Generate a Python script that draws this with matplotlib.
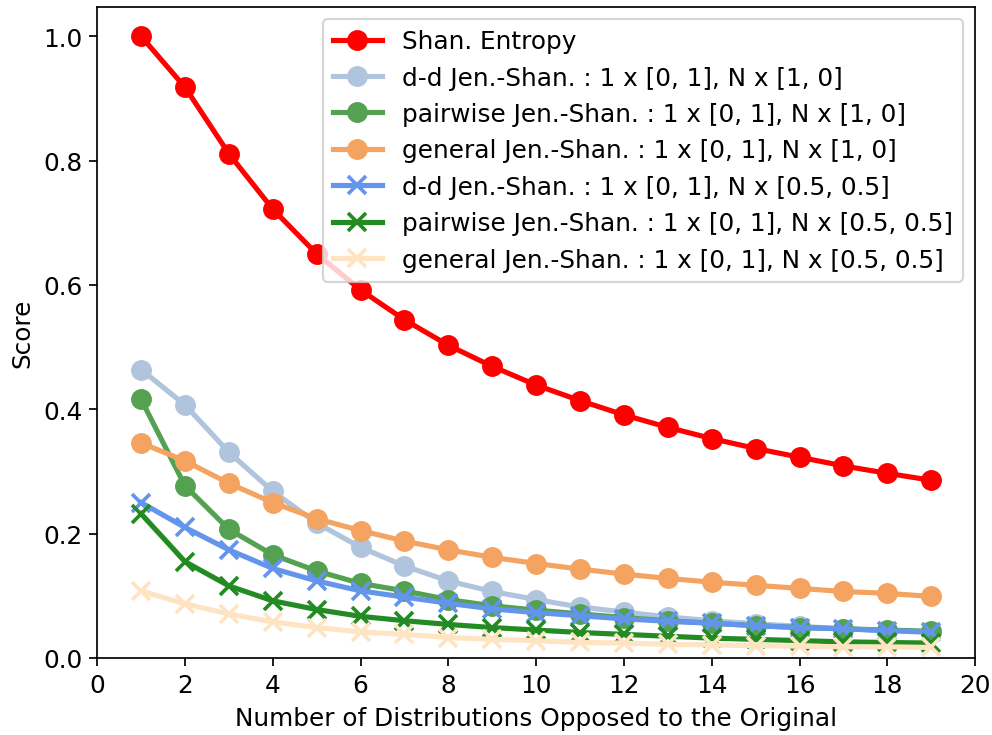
import matplotlib
matplotlib.use("Agg")
import matplotlib.pyplot as plt

n_opposed = list(range(1, 20))

shan_entropy = [1.000, 0.918, 0.811, 0.722, 0.650, 0.592, 0.544, 0.503, 0.469, 0.439,
                0.414, 0.391, 0.371, 0.353, 0.337, 0.323, 0.309, 0.297, 0.286]
dd_js_10 = [0.464, 0.407, 0.331, 0.268, 0.217, 0.178, 0.148, 0.124, 0.107, 0.094,
            0.082, 0.074, 0.066, 0.060, 0.055, 0.051, 0.047, 0.044, 0.041]
pw_js_10 = [0.416, 0.277, 0.207, 0.166, 0.140, 0.120, 0.108, 0.094, 0.084, 0.077,
            0.071, 0.065, 0.060, 0.056, 0.052, 0.049, 0.047, 0.045, 0.043]
gen_js_10 = [0.346, 0.317, 0.281, 0.250, 0.224, 0.205, 0.188, 0.174, 0.162, 0.152,
             0.143, 0.135, 0.128, 0.122, 0.117, 0.112, 0.107, 0.104, 0.099]
dd_js_55 = [0.250, 0.210, 0.174, 0.144, 0.124, 0.108, 0.098, 0.088, 0.079, 0.073,
            0.068, 0.063, 0.059, 0.056, 0.052, 0.049, 0.047, 0.044, 0.042]
pw_js_55 = [0.232, 0.155, 0.116, 0.092, 0.078, 0.067, 0.060, 0.054, 0.049, 0.045,
            0.041, 0.038, 0.035, 0.032, 0.030, 0.028, 0.026, 0.025, 0.024]
gen_js_55 = [0.108, 0.087, 0.071, 0.058, 0.049, 0.042, 0.038, 0.033, 0.030, 0.028,
             0.025, 0.024, 0.022, 0.021, 0.020, 0.019, 0.018, 0.018, 0.017]

labels = [
    "Shan. Entropy",
    "d-d Jen.-Shan. : 1 x [0, 1], N x [1, 0]",
    "pairwise Jen.-Shan. : 1 x [0, 1], N x [1, 0]",
    "general Jen.-Shan. : 1 x [0, 1], N x [1, 0]",
    "d-d Jen.-Shan. : 1 x [0, 1], N x [0.5, 0.5]",
    "pairwise Jen.-Shan. : 1 x [0, 1], N x [0.5, 0.5]",
    "general Jen.-Shan. : 1 x [0, 1], N x [0.5, 0.5]",
]
series = [shan_entropy, dd_js_10, pw_js_10, gen_js_10, dd_js_55, pw_js_55, gen_js_55]
colors = ["red", "lightsteelblue", "#55a152", "sandybrown", "cornflowerblue", "forestgreen", "bisque"]
markers = ["o", "o", "o", "o", "x", "x", "x"]

plt.rcParams["font.size"] = 11.5
fig = plt.figure(figsize=(6.4, 4.748), dpi=155)
ax = fig.add_axes([0.098, 0.1046, 0.885, 0.8845])
for vals, lab, c, m in zip(series, labels, colors, markers):
    ax.plot(n_opposed, vals, color=c, marker=m, linewidth=2.4, markersize=8,
            markeredgewidth=1.7, label=lab)

ax.set_xlim(0, 20)
ax.set_ylim(0, 1.047)
ax.set_xticks(range(0, 21, 2))
ax.set_yticks([0.0, 0.2, 0.4, 0.6, 0.8, 1.0])
ax.set_xlabel("Number of Distributions Opposed to the Original")
ax.set_ylabel("Score")
ax.legend(loc="upper right")
fig.savefig("out.png", dpi=155)
